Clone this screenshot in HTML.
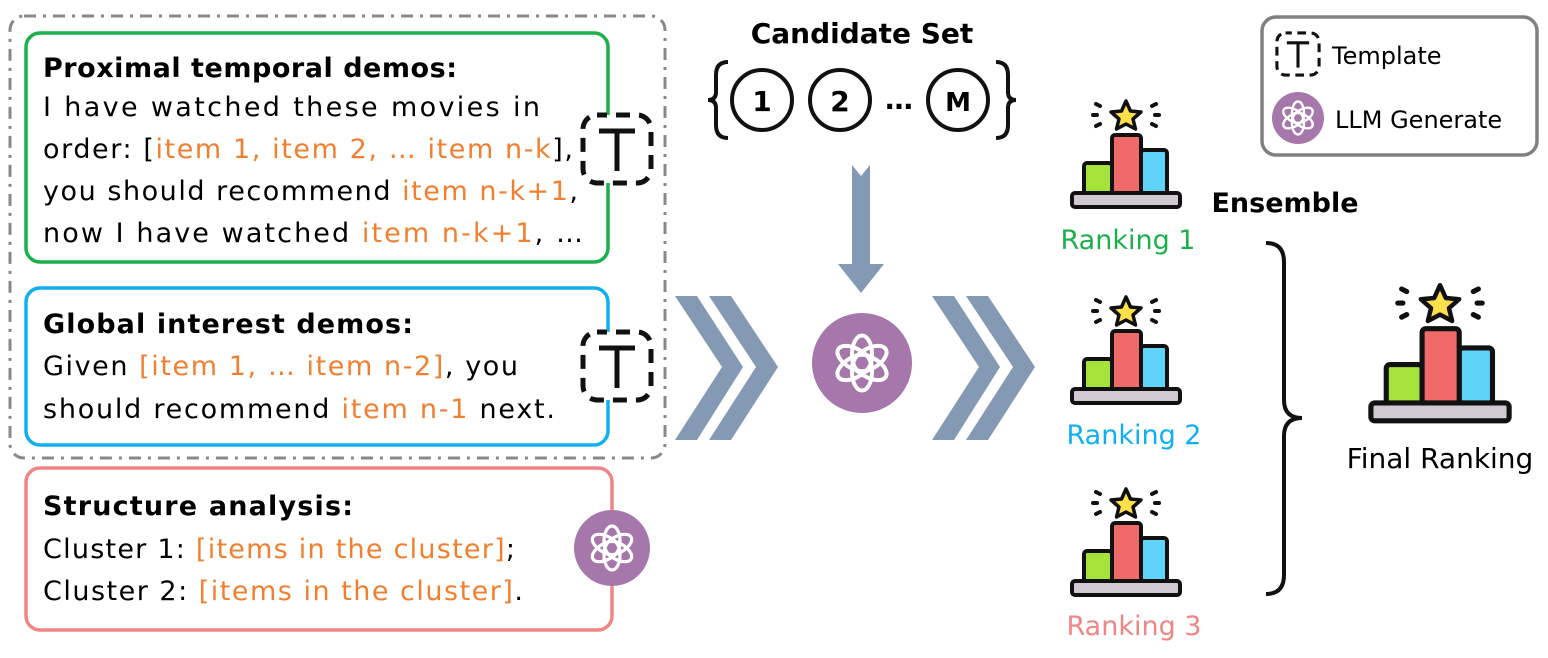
<!DOCTYPE html>
<html><head><meta charset="utf-8"><style>
html,body{margin:0;padding:0;background:#fff;}
svg{display:block;}
text{font-family:"DejaVu Sans","Liberation Sans",sans-serif;}
</style></head><body>
<svg width="1548" height="658" viewBox="0 0 1548 658" xmlns="http://www.w3.org/2000/svg">
<defs>
  <g id="tic">
    <rect x="-34" y="-34" width="68" height="68" rx="14" fill="#fff" stroke="#111" stroke-width="5" stroke-dasharray="14 9" stroke-dashoffset="4"/>
    <path d="M-18 -18 H18 M0 -18 V22" stroke="#111" stroke-width="5" fill="none"/>
  </g>
  <g id="logo" fill="none" stroke="#fff" stroke-width="3.2">
    <ellipse cx="0" cy="-7" rx="8" ry="15" transform="rotate(0)"/>
    <ellipse cx="0" cy="-7" rx="8" ry="15" transform="rotate(60)"/>
    <ellipse cx="0" cy="-7" rx="8" ry="15" transform="rotate(120)"/>
    <ellipse cx="0" cy="-7" rx="8" ry="15" transform="rotate(180)"/>
    <ellipse cx="0" cy="-7" rx="8" ry="15" transform="rotate(240)"/>
    <ellipse cx="0" cy="-7" rx="8" ry="15" transform="rotate(300)"/>
  </g>
  <g id="pod">
    <g stroke="#111" stroke-width="4" stroke-linecap="round">
      <line x1="-33" y1="-89" x2="-29" y2="-89"/><line x1="33" y1="-89" x2="29" y2="-89"/>
      <line x1="-30" y1="-78" x2="-26" y2="-80"/><line x1="30" y1="-78" x2="26" y2="-80"/>
      <line x1="-30" y1="-100" x2="-26" y2="-98"/><line x1="30" y1="-100" x2="26" y2="-98"/>
    </g>
    <polygon points="0,-103 4.5,-93 15,-92 7,-85 9.5,-75 0,-80 -9.5,-75 -7,-85 -15,-92 -4.5,-93" fill="#fde04a" stroke="#111" stroke-width="3.5" stroke-linejoin="round"/>
    <rect x="-42" y="-41" width="28" height="31" rx="3" fill="#a6e33a" stroke="#111" stroke-width="4"/>
    <rect x="15" y="-54" width="26" height="44" rx="3" fill="#5fd4f8" stroke="#111" stroke-width="4"/>
    <rect x="-14" y="-69" width="29" height="59" rx="3" fill="#f06a6a" stroke="#111" stroke-width="4"/>
    <rect x="-54" y="-11" width="108" height="14" rx="3" fill="#d0cbd2" stroke="#111" stroke-width="4"/>
  </g>
</defs>

<rect x="10" y="16" width="655" height="442" rx="14" fill="none" stroke="#888" stroke-width="3" stroke-dasharray="12 7 3 7"/>

<rect x="26" y="33" width="582" height="229" rx="14" fill="#fff" stroke="#1cb04c" stroke-width="3.5"/>
<text x="43" y="77" font-size="27" font-weight="bold" textLength="414">Proximal temporal demos:</text>
<text x="43" y="116" font-size="27" textLength="497">I have watched these movies in</text>
<text x="43" y="158" font-size="27" textLength="530">order: [<tspan fill="#f08030">item 1, item 2, … item n-k</tspan>],</text>
<text x="43" y="200" font-size="27" textLength="535">you should recommend <tspan fill="#f08030">item n-k+1</tspan>,</text>
<text x="43" y="242" font-size="27" textLength="540">now I have watched <tspan fill="#f08030">item n-k+1</tspan>, …</text>
<use href="#tic" x="617" y="149"/>

<rect x="26" y="288" width="582" height="157" rx="14" fill="#fff" stroke="#10b0f0" stroke-width="3.5"/>
<text x="43" y="333" font-size="27" font-weight="bold" textLength="370">Global interest demos:</text>
<text x="43" y="375" font-size="27" textLength="475">Given <tspan fill="#f08030">[item 1, … item n-2]</tspan>, you</text>
<text x="43" y="418" font-size="27" textLength="512">should recommend <tspan fill="#f08030">item n-1</tspan> next.</text>
<use href="#tic" x="617" y="366"/>

<rect x="26" y="468" width="586" height="162" rx="14" fill="#fff" stroke="#f08585" stroke-width="3.5"/>
<text x="43" y="515" font-size="27" font-weight="bold" textLength="310">Structure analysis:</text>
<text x="43" y="558" font-size="27" textLength="472">Cluster 1: <tspan fill="#f08030">[items in the cluster]</tspan>;</text>
<text x="43" y="600" font-size="27" textLength="480">Cluster 2: <tspan fill="#f08030">[items in the cluster]</tspan>.</text>
<circle cx="612" cy="548" r="38" fill="#a677aa"/>
<use href="#logo" x="612" y="548"/>

<text x="862" y="43" font-size="28" font-weight="bold" text-anchor="middle">Candidate Set</text>
<path d="M728 62 Q716 62 716 75 V92 Q716 100 708 100 Q716 100 716 108 V125 Q716 138 728 138" fill="none" stroke="#111" stroke-width="4"/>
<path d="M996 62 Q1008 62 1008 75 V92 Q1008 100 1016 100 Q1008 100 1008 108 V125 Q1008 138 996 138" fill="none" stroke="#111" stroke-width="4"/>
<circle cx="762" cy="100" r="30" fill="none" stroke="#111" stroke-width="4"/>
<text x="762" y="111" font-size="28" font-weight="bold" text-anchor="middle">1</text>
<circle cx="840" cy="100" r="30" fill="none" stroke="#111" stroke-width="4"/>
<text x="840" y="111" font-size="28" font-weight="bold" text-anchor="middle">2</text>
<text x="899" y="109" font-size="28" font-weight="bold" text-anchor="middle">…</text>
<circle cx="958" cy="100" r="30" fill="none" stroke="#111" stroke-width="4"/>
<text x="958" y="111" font-size="26" font-weight="bold" text-anchor="middle">M</text>

<polygon points="852,165 861,176 870,165 870,264 884,264 861,293 838,264 852,264" fill="#8499b3"/>

<g fill="#8499b3">
  <polygon points="675,296 697,296 743,367 697,440 675,440 722,367"/>
  <polygon points="709,296 731,296 778,367 731,440 709,440 756,367"/>
  <polygon points="932,296 954,296 1000,367 954,440 932,440 979,367"/>
  <polygon points="966,296 988,296 1035,367 988,440 966,440 1013,367"/>
</g>
<circle cx="862" cy="363" r="50" fill="#a677aa"/>
<use href="#logo" transform="translate(862 363) scale(1.25)"/>

<use href="#pod" x="1126" y="204"/>
<use href="#pod" x="1126" y="400"/>
<use href="#pod" x="1126" y="592"/>
<text x="1128" y="249" font-size="27" fill="#1cb04c" text-anchor="middle">Ranking 1</text>
<text x="1134" y="444" font-size="27" fill="#10b0f0" text-anchor="middle">Ranking 2</text>
<text x="1134" y="635" font-size="27" fill="#f08585" text-anchor="middle">Ranking 3</text>

<text x="1285" y="212" font-size="27" font-weight="bold" text-anchor="middle">Ensemble</text>
<path d="M1266 243 Q1284 243 1284 262 V400 Q1284 418 1302 418 Q1284 418 1284 436 V575 Q1284 594 1266 594" fill="none" stroke="#111" stroke-width="4"/>

<use href="#pod" transform="translate(1440 417) scale(1.28)"/>
<text x="1440" y="468" font-size="28" text-anchor="middle">Final Ranking</text>

<rect x="1262" y="17" width="275" height="138" rx="14" fill="#fff" stroke="#808080" stroke-width="3.5"/>
<use href="#tic" transform="translate(1298 54) scale(0.62)"/>
<text x="1332" y="64" font-size="24">Template</text>
<circle cx="1298" cy="118" r="26" fill="#a677aa"/>
<use href="#logo" transform="translate(1298 118) scale(0.75)"/>
<text x="1335" y="128" font-size="24">LLM Generate</text>
</svg>
</body></html>
